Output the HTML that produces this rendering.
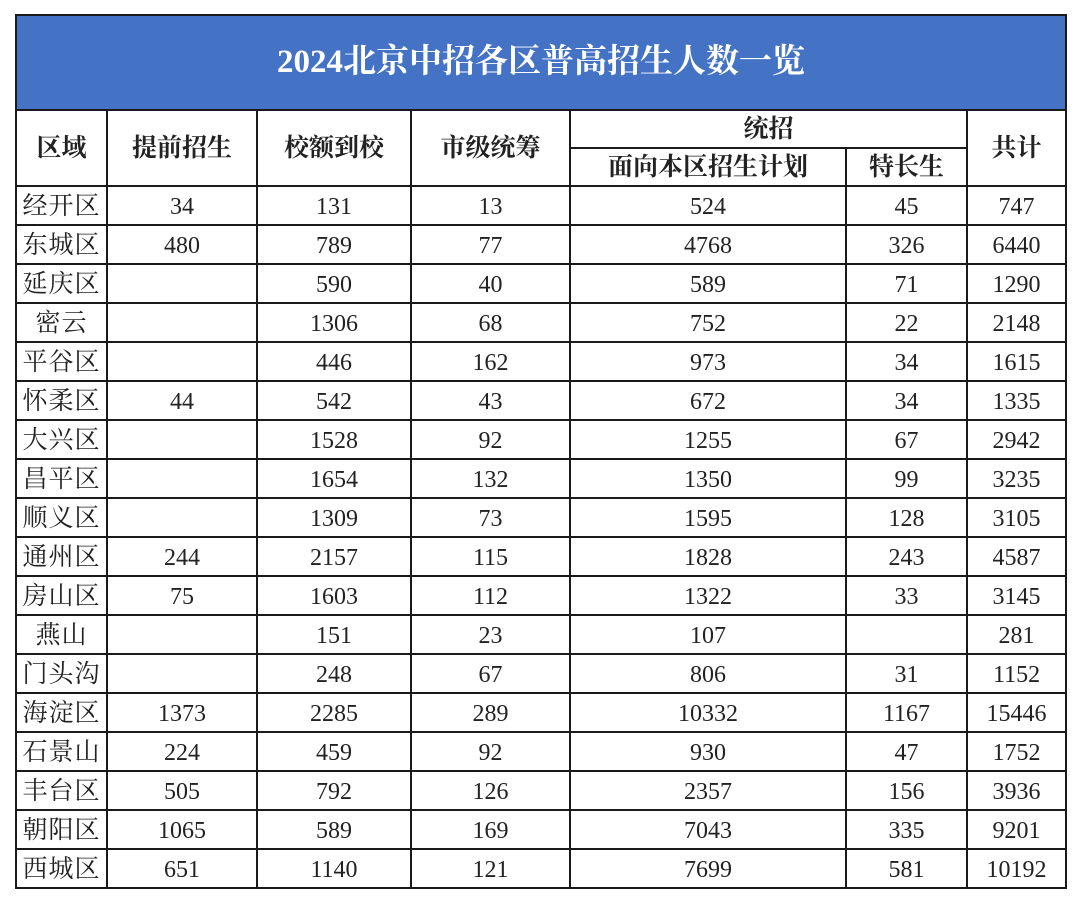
<!DOCTYPE html>
<html><head><meta charset="utf-8"><style>
html,body{margin:0;padding:0;background:#fff;width:1080px;height:906px;overflow:hidden}
table{position:absolute;left:15px;top:14px;border-collapse:collapse;table-layout:fixed;width:1050px;
font-family:"Liberation Serif","Noto Serif CJK SC",serif;font-size:24px;color:#222}
td{border:2px solid #1a1a1a;text-align:center;padding:3px 0 0 0;height:34px;line-height:34px;white-space:nowrap;overflow:hidden}
td.t{background:#4472c4;color:#fff;font-size:33px;height:93px;line-height:93px;padding:0;font-weight:bold}
tr.h td{font-weight:bold;font-size:25px;height:34px;line-height:34px;padding-top:2px}
td.l{font-size:25px;letter-spacing:1px}
</style></head><body>
<table>
<colgroup><col style="width:91px"><col style="width:150px"><col style="width:154px"><col style="width:159px"><col style="width:276px"><col style="width:121px"><col style="width:99px"></colgroup>
<tr><td class="t" colspan="7">2024北京中招各区普高招生人数一览</td></tr>
<tr class="h"><td rowspan="2">区域</td><td rowspan="2">提前招生</td><td rowspan="2">校额到校</td><td rowspan="2">市级统筹</td><td colspan="2">统招</td><td rowspan="2">共计</td></tr>
<tr class="h"><td>面向本区招生计划</td><td>特长生</td></tr>
<tr><td class="l">经开区</td><td>34</td><td>131</td><td>13</td><td>524</td><td>45</td><td>747</td></tr>
<tr><td class="l">东城区</td><td>480</td><td>789</td><td>77</td><td>4768</td><td>326</td><td>6440</td></tr>
<tr><td class="l">延庆区</td><td></td><td>590</td><td>40</td><td>589</td><td>71</td><td>1290</td></tr>
<tr><td class="l">密云</td><td></td><td>1306</td><td>68</td><td>752</td><td>22</td><td>2148</td></tr>
<tr><td class="l">平谷区</td><td></td><td>446</td><td>162</td><td>973</td><td>34</td><td>1615</td></tr>
<tr><td class="l">怀柔区</td><td>44</td><td>542</td><td>43</td><td>672</td><td>34</td><td>1335</td></tr>
<tr><td class="l">大兴区</td><td></td><td>1528</td><td>92</td><td>1255</td><td>67</td><td>2942</td></tr>
<tr><td class="l">昌平区</td><td></td><td>1654</td><td>132</td><td>1350</td><td>99</td><td>3235</td></tr>
<tr><td class="l">顺义区</td><td></td><td>1309</td><td>73</td><td>1595</td><td>128</td><td>3105</td></tr>
<tr><td class="l">通州区</td><td>244</td><td>2157</td><td>115</td><td>1828</td><td>243</td><td>4587</td></tr>
<tr><td class="l">房山区</td><td>75</td><td>1603</td><td>112</td><td>1322</td><td>33</td><td>3145</td></tr>
<tr><td class="l">燕山</td><td></td><td>151</td><td>23</td><td>107</td><td></td><td>281</td></tr>
<tr><td class="l">门头沟</td><td></td><td>248</td><td>67</td><td>806</td><td>31</td><td>1152</td></tr>
<tr><td class="l">海淀区</td><td>1373</td><td>2285</td><td>289</td><td>10332</td><td>1167</td><td>15446</td></tr>
<tr><td class="l">石景山</td><td>224</td><td>459</td><td>92</td><td>930</td><td>47</td><td>1752</td></tr>
<tr><td class="l">丰台区</td><td>505</td><td>792</td><td>126</td><td>2357</td><td>156</td><td>3936</td></tr>
<tr><td class="l">朝阳区</td><td>1065</td><td>589</td><td>169</td><td>7043</td><td>335</td><td>9201</td></tr>
<tr><td class="l">西城区</td><td>651</td><td>1140</td><td>121</td><td>7699</td><td>581</td><td>10192</td></tr>
</table>
</body></html>
